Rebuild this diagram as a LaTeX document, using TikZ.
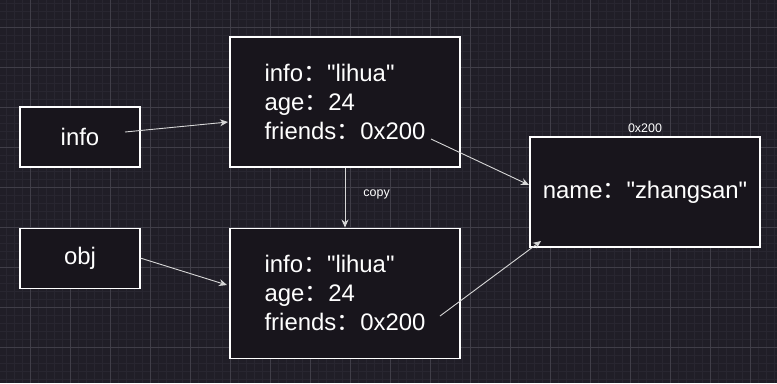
\documentclass[tikz,border=0pt]{standalone}
\usepackage{fontspec}
\setmainfont{Liberation Sans}
\newfontfamily\cjk{Noto Sans CJK SC}
\usepackage{xcolor}
\usepackage{tikz}
\usetikzlibrary{arrows.meta,positioning}

\definecolor{canvas}{RGB}{32,30,39}
\definecolor{gridmajor}{RGB}{64,62,72}
\definecolor{gridminor}{RGB}{40,38,48}
\definecolor{boxfill}{RGB}{24,21,28}
\definecolor{wire}{RGB}{215,215,215}

\newcommand{\fcolon}{{\cjk ：}}
\newcommand{\dq}{\textquotedbl}

\begin{document}
\begin{tikzpicture}[
  x=1bp, y=-1bp,
  node distance=60bp,
  varbox/.style={rectangle, draw=white, fill=boxfill, line width=1.1bp, minimum width=120bp, minimum height=60bp, text=white, font=\fontsize{24}{29}\selectfont},
  objbox/.style={varbox, minimum width=230bp, minimum height=130bp, align=left},
  heapbox/.style={varbox, minimum width=230bp, minimum height=110bp},
  tag/.style={text=white, font=\fontsize{12.5}{14}\selectfont, inner sep=1bp},
  arrow/.style={-{Stealth[length=8bp,width=7bp]}, line width=0.9bp, color=wire}
]

% Canvas and grid
\fill[canvas] (0,0) rectangle (777,383);
\useasboundingbox (0,0) rectangle (777,383);
\foreach \x in {6.7,14.7,...,777} \draw[gridminor, line width=0.6bp] (\x,0) -- (\x,383);
\foreach \y in {3.3,11.3,...,383} \draw[gridminor, line width=0.6bp] (0,\y) -- (777,\y);
\foreach \x in {30.7,70.7,...,777} \draw[gridmajor, line width=0.8bp] (\x,0) -- (\x,383);
\foreach \y in {27.3,67.3,...,383} \draw[gridmajor, line width=0.8bp] (0,\y) -- (777,\y);

% Variables
\node[varbox] (info) at (80,137) {info};
\node[varbox, below=of info] (obj) {obj};

% Objects
\node[objbox] (orig) at (345,102) {info\fcolon\dq lihua\dq\\age\fcolon 24\\friends\fcolon 0x200};
\node[objbox, below=of orig] (clone) {info\fcolon\dq lihua\dq\\age\fcolon 24\\friends\fcolon 0x200};

% Heap object
\node[heapbox] (heap) at (645,192) {name\fcolon\dq zhangsan\dq};
\node[tag, above=3bp of heap] (addr) {0x200};

% Arrow ends
\coordinate (infoout) at (125,132);
\coordinate (origin) at (228,122);
\coordinate (origout) at (431,139);
\coordinate (heapin) at (529,185);
\coordinate (clonein) at (227,285);
\coordinate (cloneout) at (440,316);
\coordinate (heapcorner) at (541,241);

\draw[arrow] (infoout) -- (origin);
\draw[arrow] (obj.east) -- (clonein);
\draw[arrow] (orig) -- node[tag, pos=0.44, right=17bp] (copylbl) {copy} (clone);
\draw[arrow] (origout) -- (heapin);
\draw[arrow] (cloneout) -- (heapcorner);

\end{tikzpicture}
\end{document}
